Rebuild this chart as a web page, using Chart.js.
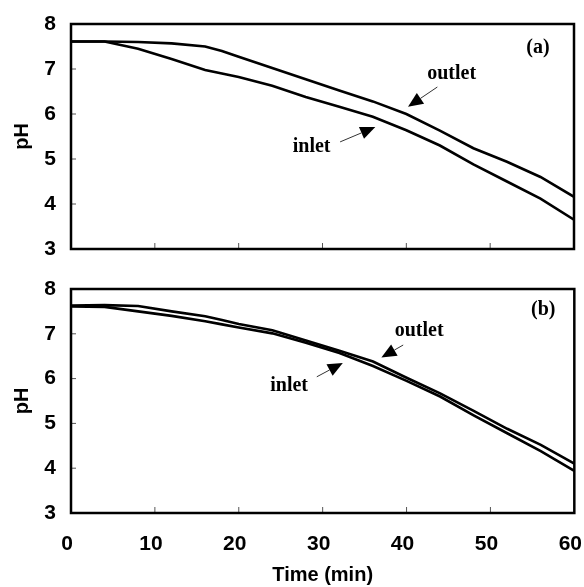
<!DOCTYPE html>
<html>
<head>
<meta charset="utf-8">
<script src="https://cdn.jsdelivr.net/npm/chart.js@4.4.1/dist/chart.umd.min.js"></script>
<style>
  body { margin: 0; background: #fff; overflow: hidden; }
  #wrapA { position: absolute; left: 0; top: -5px; width: 584px; height: 283px; }
  #wrapB { position: absolute; left: 0; top: 260px; width: 605px; height: 327px; }
</style>
</head>
<body>
<div id="wrapA"><canvas id="chartA"></canvas></div>
<div id="wrapB"><canvas id="chartB"></canvas></div>
<script>
// tempo em minutos
const tempo = [0, 4, 8, 12, 16, 18, 20, 24, 28, 32, 36, 40, 44, 48, 52, 56, 60]

// painel (a)
const saidaA   = [7.61, 7.61, 7.60, 7.57, 7.50, 7.40, 7.27, 7.02, 6.77, 6.52, 6.28, 6.00, 5.63, 5.24, 4.94, 4.60, 4.16]
const entradaA = [7.61, 7.61, 7.45, 7.22, 6.98, 6.90, 6.82, 6.63, 6.38, 6.16, 5.94, 5.64, 5.30, 4.88, 4.50, 4.12, 3.65]

// painel (b)
const saidaB   = [7.63, 7.64, 7.62, 7.50, 7.39, 7.31, 7.22, 7.08, 6.85, 6.62, 6.38, 6.02, 5.67, 5.28, 4.88, 4.52, 4.10]
const entradaB = [7.61, 7.60, 7.50, 7.40, 7.28, 7.21, 7.14, 7.01, 6.80, 6.57, 6.28, 5.95, 5.60, 5.18, 4.78, 4.38, 3.94]

const ticksX = [0, 10, 20, 30, 40, 50, 60]
const ticksY = [3, 4, 5, 6, 7, 8]

const fonteEixo = { family: 'Liberation Sans, Arial, sans-serif', size: 21, weight: 'bold' }
const fonteNota = 'bold 20px "Liberation Serif", "Times New Roman", serif'

function pontos(ys) {
  return tempo.map((t, i) => ({ x: t, y: ys[i] }))
}

// moldura, marcas internas e anotações
function pluginPainel(rotulo, notas) {
  return {
    id: 'painel',
    afterDraw(chart) {
      const ctx = chart.ctx
      const a = chart.chartArea
      const sx = chart.scales.x
      const sy = chart.scales.y
      ctx.save()
      ctx.strokeStyle = '#555'
      ctx.lineWidth = 1
      ticksY.slice(1, -1).forEach(v => {
        const py = sy.getPixelForValue(v)
        ctx.beginPath(); ctx.moveTo(a.left, py); ctx.lineTo(a.left + 5, py); ctx.stroke()
      })
      ticksX.slice(1, -1).forEach(v => {
        const px = sx.getPixelForValue(v)
        ctx.beginPath(); ctx.moveTo(px, a.bottom); ctx.lineTo(px, a.bottom - 6); ctx.stroke()
      })
      ctx.strokeStyle = '#000'
      ctx.lineWidth = 2.5
      ctx.strokeRect(a.left, a.top, a.right - a.left, a.bottom - a.top)

      ctx.fillStyle = '#000'
      ctx.font = fonteNota
      ctx.textAlign = 'center'
      ctx.textBaseline = 'middle'
      ctx.fillText(rotulo.texto, sx.getPixelForValue(rotulo.x), sy.getPixelForValue(rotulo.y))

      notas.forEach(n => {
        ctx.fillText(n.texto, sx.getPixelForValue(n.x), sy.getPixelForValue(n.y))
        const x0 = sx.getPixelForValue(n.de[0]), y0 = sy.getPixelForValue(n.de[1])
        const x1 = sx.getPixelForValue(n.ate[0]), y1 = sy.getPixelForValue(n.ate[1])
        const ang = Math.atan2(y1 - y0, x1 - x0)
        const comp = 15, meia = 6.5
        const bx = x1 - comp * Math.cos(ang), by = y1 - comp * Math.sin(ang)
        ctx.strokeStyle = '#333'
        ctx.lineWidth = 1
        ctx.beginPath(); ctx.moveTo(x0, y0); ctx.lineTo(bx, by); ctx.stroke()
        ctx.beginPath()
        ctx.moveTo(x1, y1)
        ctx.lineTo(bx + meia * Math.sin(ang), by - meia * Math.cos(ang))
        ctx.lineTo(bx - meia * Math.sin(ang), by + meia * Math.cos(ang))
        ctx.closePath()
        ctx.fill()
      })
      ctx.restore()
    }
  }
}

function criarGrafico(id, saida, entrada, comEixoX, rotulo, notas, padTopo, padBaixo) {
  const ctx = document.getElementById(id)
  return new Chart(ctx, {
    type: 'line',
    data: {
      datasets: [
        { label: 'outlet', data: pontos(saida), borderColor: '#000', borderWidth: 2.6, pointRadius: 0, tension: 0 },
        { label: 'inlet', data: pontos(entrada), borderColor: '#000', borderWidth: 2.6, pointRadius: 0, tension: 0 }
      ]
    },
    options: {
      responsive: true,
      maintainAspectRatio: false,
      animation: false,
      layout: { padding: { top: padTopo, right: 10, bottom: padBaixo, left: 0 } },
      plugins: { legend: { display: false }, tooltip: { enabled: false } },
      scales: {
        x: {
          type: 'linear', min: 0, max: 60,
          display: comEixoX,
          afterBuildTicks: s => { s.ticks = ticksX.map(v => ({ value: v })) },
          afterFit: s => { if (comEixoX) s.height = 74 },
          grid: { display: false, drawTicks: false },
          border: { display: false },
          ticks: { color: '#000', font: fonteEixo, padding: 19, maxRotation: 0, labelOffset: -4 },
          title: { display: true, text: 'Time (min)', color: '#000', font: { family: fonteEixo.family, size: 20, weight: 'bold' }, padding: { top: 0, bottom: 0 } }
        },
        y: {
          min: 3, max: 8,
          afterBuildTicks: s => { s.ticks = ticksY.map(v => ({ value: v })) },
          afterFit: s => { s.width = 71 },
          grid: { display: false, drawTicks: false },
          border: { display: false },
          ticks: { color: '#000', font: fonteEixo, padding: 15 },
          title: { display: true, text: 'pH', color: '#000', font: { family: fonteEixo.family, size: 20, weight: 'bold' }, padding: { top: 10, bottom: 0 } }
        }
      }
    },
    plugins: [pluginPainel(rotulo, notas)]
  })
}

criarGrafico('chartA', saidaA, entradaA, false,
  { texto: '(a)', x: 55.7, y: 7.47 },
  [
    { texto: 'outlet', x: 45.4, y: 6.89, de: [43.7, 6.6], ate: [40.2, 6.16] },
    { texto: 'inlet', x: 28.7, y: 5.27, de: [32.1, 5.38], ate: [36.3, 5.71] }
  ], 29, 29)

criarGrafico('chartB', saidaB, entradaB, true,
  { texto: '(b)', x: 56.3, y: 7.53 },
  [
    { texto: 'outlet', x: 41.5, y: 7.06, de: [39.6, 6.75], ate: [37.0, 6.47] },
    { texto: 'inlet', x: 26.0, y: 5.83, de: [29.3, 6.04], ate: [32.4, 6.35] }
  ], 29, 0)
</script>
</body>
</html>
